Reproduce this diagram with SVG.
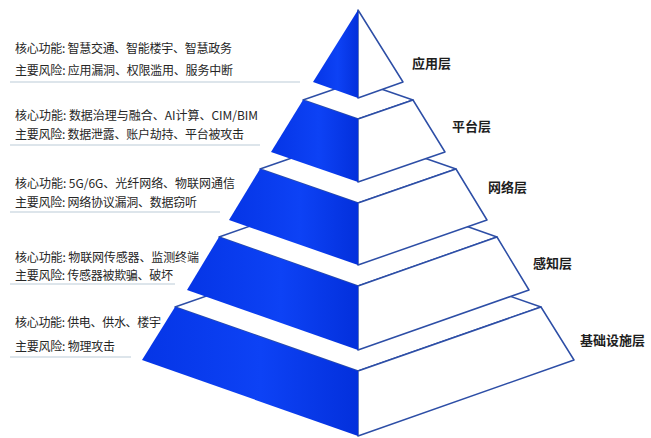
<svg xmlns="http://www.w3.org/2000/svg" width="651" height="438" viewBox="0 0 651 438">
<defs>
<linearGradient id="blue" x1="0" y1="0" x2="1" y2="0">
<stop offset="0" stop-color="#0535e6"/>
<stop offset="0.55" stop-color="#0d42f5"/>
<stop offset="1" stop-color="#0330dc"/>
</linearGradient>
<style>
.top{fill:#fff;stroke:#2d4ea6;stroke-width:1.5;stroke-linejoin:round}
.rf{fill:#fff;stroke:#2d4ea6;stroke-width:1.5;stroke-linejoin:round}
.lf{fill:url(#blue);stroke:none}
.info{font-family:"Noto Sans CJK SC","Noto Sans",sans-serif;font-size:12px;fill:#262626}
.lbl{font-family:"Noto Sans CJK SC","Noto Sans",sans-serif;font-size:13px;font-weight:bold;fill:#1e1e1e}
.sep{stroke:#bccbd8;stroke-width:1.2;fill:none}
</style>
</defs>
<rect width="651" height="438" fill="#fff"/>

<g id="connectors">
<line class="sep" x1="10" y1="82" x2="300" y2="82"/>
<line class="sep" x1="10" y1="145" x2="260" y2="145"/>
<line class="sep" x1="10" y1="212" x2="220" y2="212"/>
<line class="sep" x1="10" y1="284" x2="175" y2="284"/>
<line class="sep" x1="10" y1="357" x2="131" y2="357"/>
</g>

<g id="layer-infrastructure">
<polygon class="top" points="175,307 358,243 541,307 358,371"/>
<polygon class="rf" points="358,371 541,307 574,360 358,436"/>
<polygon class="lf" points="175,307 358,371 358,436 142,360"/>
<text class="lbl" x="580" y="345">基础设施层</text>
</g>

<g id="layer-perception">
<polygon class="top" points="219,237 358,188 497,237 358,286"/>
<polygon class="rf" points="358,286 497,237 529,290 358,350"/>
<polygon class="lf" points="219,237 358,286 358,350 187,290"/>
<text class="lbl" x="533" y="268">感知层</text>
</g>

<g id="layer-network">
<polygon class="top" points="260,169 358,135 456,169 358,203"/>
<polygon class="rf" points="358,203 456,169 487,220 358,265"/>
<polygon class="lf" points="260,169 358,203 358,265 229,220"/>
<text class="lbl" x="488" y="192">网络层</text>
</g>

<g id="layer-platform">
<polygon class="top" points="303,100 358,81 413,100 358,119"/>
<polygon class="rf" points="358,119 413,100 445,152 358,182"/>
<polygon class="lf" points="303,100 358,119 358,182 271,152"/>
<text class="lbl" x="452" y="131">平台层</text>
</g>

<g id="layer-application">
<polygon class="rf" points="358,10 403,82 358,98"/>
<polygon class="lf" points="358,10 358,98 313,82"/>
<text class="lbl" x="412" y="68">应用层</text>
</g>

<g id="info-application">
<text class="info" x="15" y="52.5" textLength="217" lengthAdjust="spacing">核心功能: 智慧交通、智能楼宇、智慧政务</text>
<text class="info" x="15" y="75" textLength="218" lengthAdjust="spacing">主要风险: 应用漏洞、权限滥用、服务中断</text>
</g>
<g id="info-platform">
<text class="info" x="15" y="119.5" textLength="243" lengthAdjust="spacing">核心功能: 数据治理与融合、AI计算、CIM/BIM</text>
<text class="info" x="15" y="138.5" textLength="229" lengthAdjust="spacing">主要风险: 数据泄露、账户劫持、平台被攻击</text>
</g>
<g id="info-network">
<text class="info" x="15" y="187.5" textLength="220" lengthAdjust="spacing">核心功能: 5G/6G、光纤网络、物联网通信</text>
<text class="info" x="15" y="206.5" textLength="182" lengthAdjust="spacing">主要风险: 网络协议漏洞、数据窃听</text>
</g>
<g id="info-perception">
<text class="info" x="15" y="261.5" textLength="184" lengthAdjust="spacing">核心功能: 物联网传感器、监测终端</text>
<text class="info" x="15" y="279.5" textLength="158" lengthAdjust="spacing">主要风险: 传感器被欺骗、破坏</text>
</g>
<g id="info-infrastructure">
<text class="info" x="15" y="326.5" textLength="146" lengthAdjust="spacing">核心功能: 供电、供水、楼宇</text>
<text class="info" x="15" y="350.5" textLength="100" lengthAdjust="spacing">主要风险: 物理攻击</text>
</g>
</svg>
